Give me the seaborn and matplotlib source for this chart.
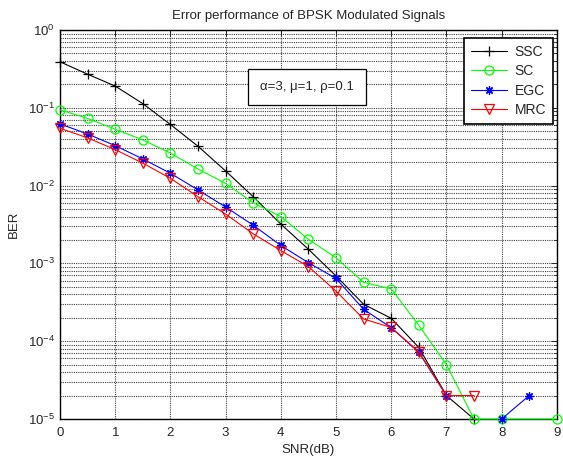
import numpy as np
import pandas as pd
import seaborn as sns
import matplotlib.pyplot as plt
from matplotlib.ticker import LogLocator, NullFormatter

## Dados (BER x SNR)
snr = [0, 0.5, 1, 1.5, 2, 2.5, 3, 3.5, 4, 4.5, 5, 5.5, 6, 6.5, 7, 7.5]
ber_ssc = [0.39, 0.27, 0.19, 0.113, 0.061, 0.032, 0.0154, 0.0072, 0.0032, 0.00152,
           6.9e-4, 2.98e-4, 1.97e-4, 8.3e-5, 2.0e-5, 1.0e-5]

snr_sc = [0, 0.5, 1, 1.5, 2, 2.5, 3, 3.5, 4, 4.5, 5, 5.5, 6, 6.5, 7, 7.5, 8, 9]
ber_sc = [0.094, 0.073, 0.053, 0.0386, 0.0262, 0.0163, 0.0107, 0.006, 0.004, 0.00204,
          0.00118, 5.7e-4, 4.7e-4, 1.6e-4, 5.0e-5, 1.0e-5, 1.0e-5, 1.0e-5]

snr_egc = [0, 0.5, 1, 1.5, 2, 2.5, 3, 3.5, 4, 4.5, 5, 5.5, 6, 6.5, 7]
ber_egc = [0.062, 0.046, 0.0326, 0.022, 0.0144, 0.0088, 0.0053, 0.0031, 0.0017, 0.00102,
           6.4e-4, 2.57e-4, 1.49e-4, 7.2e-5, 2.0e-5]
snr_egc_tail = [8, 8.5]
ber_egc_tail = [1.0e-5, 2.0e-5]

ber_mrc = [0.0545, 0.041, 0.029, 0.0194, 0.0124, 0.0072, 0.0043, 0.0024, 0.00146, 9.1e-4,
           4.4e-4, 1.93e-4, 1.5e-4, 7.3e-5, 2.0e-5, 2.0e-5]

sns.set_style("white")
plt.rcParams['font.family'] = ['Liberation Sans', 'DejaVu Sans']
plt.rcParams['mathtext.default'] = 'regular'

fig = plt.figure(figsize=(5.63, 4.61), dpi=100)
ax = fig.add_axes([0.1066, 0.0911, 0.8824, 0.8439])
ax.set_yscale('log')

asterisco = (8, 2, 0)
series = [
    (snr, ber_ssc, 'SSC', 'black', dict(marker='+', markersize=6.5, markeredgewidth=0.9)),
    (snr_sc, ber_sc, 'SC', '#00ff00', dict(marker='o', markersize=6.5, markerfacecolor='none',
                                           markeredgewidth=0.9)),
    (snr_egc, ber_egc, 'EGC', '#0000ff', dict(marker=asterisco, markersize=6,
                                              markeredgewidth=0.9)),
    (snr, ber_mrc, 'MRC', '#ff0000', dict(marker='v', markersize=7, markerfacecolor='none',
                                          markeredgewidth=0.9)),
]
for x, y, nome, cor, estilo in series:
    sns.lineplot(x=x, y=y, ax=ax, color=cor, label=nome, linewidth=0.8,
                 markeredgecolor=cor, estimator=None, sort=False, clip_on=False,
                 zorder=3, **estilo)
sns.lineplot(x=snr_egc_tail, y=ber_egc_tail, ax=ax, color='#0000ff', linewidth=0.8,
             estimator=None, sort=False, clip_on=False, zorder=3, legend=False,
             marker=asterisco, markersize=6, markeredgewidth=0.9, markeredgecolor='#0000ff')

ax.set_xlim(0, 9)
ax.set_ylim(1e-5, 1)
ax.set_xticks(range(10))
ax.set_yticks([10.0 ** k for k in range(-5, 1)])
ax.set_yticklabels(['$10^{%d}$' % k for k in range(-5, 1)])
ax.yaxis.set_minor_locator(LogLocator(base=10, subs=np.arange(2, 10), numticks=20))
ax.yaxis.set_minor_formatter(NullFormatter())
ax.tick_params(which='both', direction='in', top=True, right=True, labelsize=9.5)
ax.tick_params(which='major', length=4, width=0.7)
ax.tick_params(axis='x', pad=6)
ax.tick_params(which='minor', length=2, width=0.6)
ax.grid(True, which='major', color='0.25', linestyle=(0, (1, 1)), linewidth=0.8)
ax.grid(True, which='minor', axis='y', color='0.25', linestyle=(0, (1, 1)), linewidth=0.8)
for s in ax.spines.values():
    s.set_color('black')
    s.set_linewidth(1.0)

ax.set_title('Error performance of BPSK Modulated Signals', fontsize=9.5, pad=8)
ax.set_xlabel('SNR(dB)', fontsize=9.5, labelpad=3)
ax.set_ylabel('BER', fontsize=9.5, labelpad=6)

ax.text(0.497, 0.853, 'α=3, μ=1, ρ=0.1', transform=ax.transAxes, fontsize=9.5,
        ha='center', va='center', zorder=5,
        bbox=dict(boxstyle='square,pad=0.9', fc='white', ec='black', lw=0.9))

leg = ax.legend(loc='upper right', bbox_to_anchor=(0.992, 0.98), fontsize=10,
                fancybox=False, framealpha=1, edgecolor='black', borderaxespad=0,
                handlelength=2.6, handletextpad=0.5, labelspacing=0.4, borderpad=0.5)
leg.get_frame().set_linewidth(1.2)

plt.savefig('out.png', dpi=100)
